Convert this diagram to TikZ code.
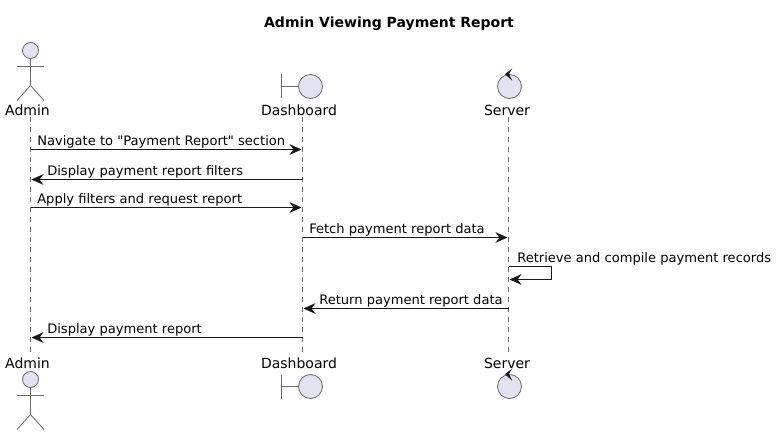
\documentclass[tikz,border=0pt]{standalone}
\usepackage{fontspec}
\setmainfont{DejaVu Sans}[Ligatures=TeXOff]
\usetikzlibrary{arrows.meta}
\definecolor{ink}{HTML}{181818}
\definecolor{soft}{HTML}{6A6A6A}
\definecolor{partfill}{HTML}{E2E2F0}
\tikzset{
  x=0.75pt,y=-0.75pt,
  lifeline/.style={draw=soft,line width=0.5pt,dash pattern=on 3.75pt off 3.75pt},
  msg/.style={draw=ink,line width=0.75pt,-{Stealth[length=9pt,width=8pt,inset=3pt,fill=ink]}},
  msgtext/.style={anchor=base west,inner sep=0pt,font=\fontsize{9.8pt}{12pt}\selectfont,text=black},
  parttext/.style={anchor=center,inner sep=0pt,font=\fontsize{10.5pt}{12pt}\selectfont,text=black},
  titletext/.style={anchor=center,inner sep=0pt,font=\fontsize{10.5pt}{12pt}\selectfont\bfseries,text=black},
  partline/.style={draw=soft,line width=0.6pt},
  partcircle/.style={circle,draw=soft,line width=0.6pt,fill=partfill,minimum size=18pt,inner sep=0pt},
  headcircle/.style={circle,draw=soft,line width=0.6pt,fill=partfill,minimum size=12pt,inner sep=0pt},
}
\newcommand{\stickman}[2]{%
  \draw[partline] (30.5,#2) ++(0,8) -- ++(0,27) coordinate (#1hip) -- ++(-13.5,15);
  \draw[partline] (#1hip) -- ++(13.5,15);
  \draw[partline] (17,#2) ++(0,15.5) -- ++(27,0);
  \node[headcircle] (#1) at (30.5,#2) {};
}
\newcommand{\boundaryicon}[2]{%
  \node[partcircle] (#1) at (310.5,#2) {};
  \draw[partline] (#1.west) -- ++(-17,0) coordinate (#1bar);
  \draw[partline] ([yshift=9pt]#1bar) -- ([yshift=-9pt]#1bar);
}
\newcommand{\controlicon}[2]{%
  \node[partcircle] (#1) at (509.5,#2) {};
  \fill[ink] ([xshift=-3.4pt]#1.north) -- ++(7.3,-5.7) -- ++(-3.3,5.7) -- ++(3.3,6.7) -- cycle;
}
\begin{document}
\begin{tikzpicture}
\useasboundingbox (0,0) rectangle (776,435);
\node[titletext] (title) at (389,23.5) {Admin Viewing Payment Report};
% lifeline ends
\coordinate (aT) at (30.5,117); \coordinate (aB) at (30.5,354);
\coordinate (dT) at (302.5,117); \coordinate (dB) at (302.5,354);
\coordinate (sT) at (508.5,117); \coordinate (sB) at (508.5,354);
\draw[lifeline] (aT) -- (aB);
\draw[lifeline] (dT) -- (dB);
\draw[lifeline] (sT) -- (sB);
% participants top
\stickman{adminTop}{50.5}
\boundaryicon{dashTop}{86.5}
\controlicon{servTop}{86.5}
\node[parttext] (adminLabelTop) at (27.5,110) {Admin};
\node[parttext] (dashLabelTop) at (299,110) {Dashboard};
\node[parttext] (servLabelTop) at (507,110) {Server};
% participants bottom
\node[parttext] (adminLabelBot) at (27.5,363.5) {Admin};
\node[parttext] (dashLabelBot) at (299,363.5) {Dashboard};
\node[parttext] (servLabelBot) at (507,363.5) {Server};
\stickman{adminBot}{379.5}
\boundaryicon{dashBot}{386.5}
\controlicon{servBot}{386.5}
% messages
\coordinate (a1) at (30.5,149.5); \coordinate (d1) at (301.5,149.5);
\coordinate (d2) at (302.5,179.5); \coordinate (a2) at (31.5,179.5);
\coordinate (a3) at (30.5,207.5); \coordinate (d3) at (301.5,207.5);
\coordinate (d4) at (302.5,237.5); \coordinate (s4) at (507.5,237.5);
\coordinate (s5) at (508.5,266.5); \coordinate (s5e) at (551.5,266.5);
\coordinate (s5f) at (551.5,279.5); \coordinate (s5b) at (509.5,279.5);
\coordinate (s6) at (508.5,308.5); \coordinate (d6) at (303.5,308.5);
\coordinate (d7) at (302.5,337.5); \coordinate (a7) at (31.5,337.5);
\draw[msg] (a1) -- (d1);
\draw[msg] (d2) -- (a2);
\draw[msg] (a3) -- (d3);
\draw[msg] (d4) -- (s4);
\draw[msg] (s5) -- (s5e) -- (s5f) -- (s5b);
\draw[msg] (s6) -- (d6);
\draw[msg] (d7) -- (a7);
\node[msgtext] (m1) at (37,146) {Navigate to "Payment Report" section};
\node[msgtext] (m2) at (47,175.5) {Display payment report filters};
\node[msgtext] (m3) at (37,204) {Apply filters and request report};
\node[msgtext] (m4) at (309,233.5) {Fetch payment report data};
\node[msgtext] (m5) at (517,262.5) {Retrieve and compile payment records};
\node[msgtext] (m6) at (319,304.5) {Return payment report data};
\node[msgtext] (m7) at (47,333.5) {Display payment report};
\end{tikzpicture}
\end{document}
